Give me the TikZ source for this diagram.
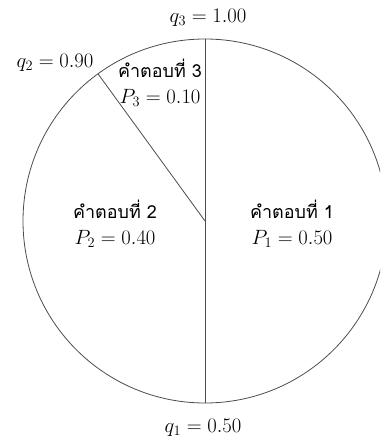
\documentclass[tikz,border=0pt]{standalone}
\usepackage{fontspec}
\newfontfamily\thaifont[Script=Thai]{Loma}
\begin{document}
\begin{tikzpicture}[x=1bp,y=-1bp,
  edge/.style={draw=black!70, line width=0.8bp},
  lbl/.style={font=\fontsize{19.5}{22}\selectfont, inner sep=0, anchor=center},
  tlbl/.style={font=\thaifont\fontsize{18}{22}\selectfont, inner sep=0, anchor=base, text depth=0pt}]
\useasboundingbox (0,0) rectangle (380,439);
\coordinate (c) at (205,221);
\coordinate (top) at (205,39);
\coordinate (bot) at (205,403);
\coordinate (q2p) at (98,73.8);
\begin{scope}
  \clip (0,0) rectangle (380,439);
  \draw[edge] (c) circle (182);
\end{scope}
\draw[edge] (top) -- (bot);
\draw[edge] (q2p) -- (c);
\node[lbl] (q3) at (208,18) {$q_3 = 1.00$};
\node[lbl] (q2) at (55,63) {$q_2 = 0.90$};
\node[lbl] (q1) at (203,428) {$q_1 = 0.50$};
\node[tlbl] (a3) at (160,78) {คำตอบที่ 3};
\node[lbl] (p3) at (160,98) {$P_3 = 0.10$};
\node[tlbl] (a2) at (115,219) {คำตอบที่ 2};
\node[lbl] (p2) at (115,239) {$P_2 = 0.40$};
\node[tlbl] (a1) at (292,219) {คำตอบที่ 1};
\node[lbl] (p1) at (292,239) {$P_1 = 0.50$};
\end{tikzpicture}
\end{document}
